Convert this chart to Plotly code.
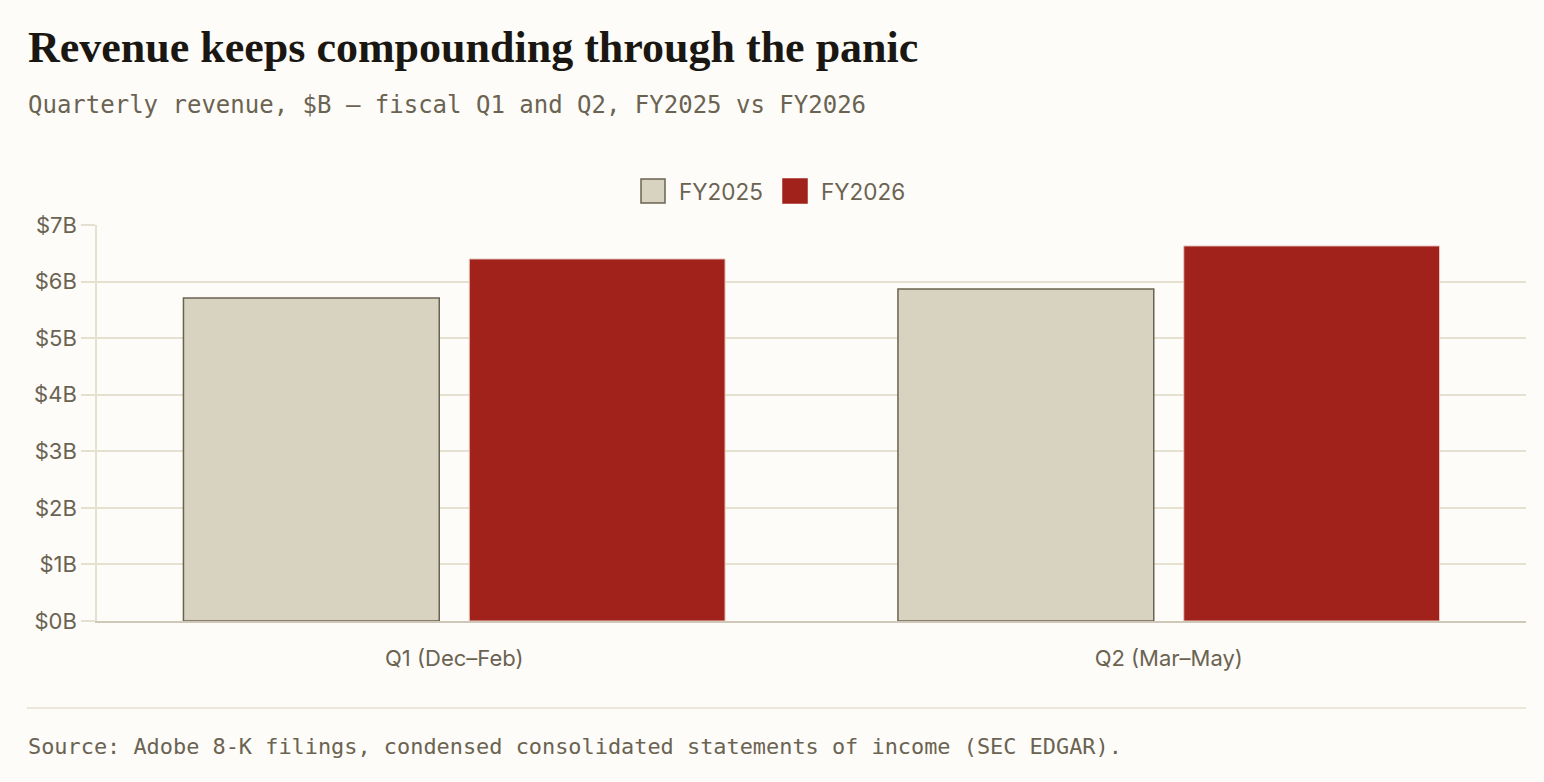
import plotly.graph_objects as go

categories = ["Q1 (Dec–Feb)", "Q2 (Mar–May)"]
series_names = ["FY2025", "FY2026"]
fy2025 = [5.71, 5.87]
fy2026 = [6.40, 6.63]
y_ticks = [0, 1, 2, 3, 4, 5, 6, 7]
y_tick_labels = ["$0B", "$1B", "$2B", "$3B", "$4B", "$5B", "$6B", "$7B"]

BG = "#fdfcf8"
GRID = "#e6e0d0"
TEXT = "#6b6352"
C25, C25_LINE = "#d8d2c0", "#6b6352"
C26 = "#a0221b"

fig = go.Figure()
fig.add_trace(go.Bar(
    name=series_names[0], x=categories, y=fy2025,
    marker=dict(color=C25, line=dict(color=C25_LINE, width=1.5)),
    hoverinfo="y",
))
fig.add_trace(go.Bar(
    name=series_names[1], x=categories, y=fy2026,
    marker=dict(color=C26, line=dict(color="#e8c8c4", width=1)),
    hoverinfo="y",
))

# plot area: x 97..1526, y 225..621
L, R, T, B = 97, 18, 225, 161
W, H = 1544, 782
pw, ph = W - L - R, H - T - B

def px(x):
    return (x - L) / pw

def py(y):
    return (H - B - y) / ph

annotations = [
    dict(text="<b>Revenue keeps compounding through the panic</b>",
         xref="paper", yref="paper", x=px(26), y=py(48),
         xanchor="left", yanchor="middle", showarrow=False,
         font=dict(family="Liberation Serif, serif", size=44, color="#1a1712")),
    dict(text="Quarterly revenue, $B — fiscal Q1 and Q2, FY2025 vs FY2026",
         xref="paper", yref="paper", x=px(26), y=py(105),
         xanchor="left", yanchor="middle", showarrow=False,
         font=dict(family="DejaVu Sans Mono, monospace", size=24, color=TEXT)),
    dict(text="Source: Adobe 8-K filings, condensed consolidated statements of income (SEC EDGAR).",
         xref="paper", yref="paper", x=px(26), y=py(746),
         xanchor="left", yanchor="middle", showarrow=False,
         font=dict(family="DejaVu Sans Mono, monospace", size=21.9, color=TEXT)),
]
shapes = [
    dict(type="line", xref="paper", yref="paper",
         x0=px(27), x1=px(1526), y0=py(708), y1=py(708),
         line=dict(color=GRID, width=1.5)),
]

# custom legend (larger swatches)
legend_items = [(series_names[0], 641, C25, C25_LINE), (series_names[1], 783, C26, C26)]
for name, x0, fill, edge in legend_items:
    shapes.append(dict(type="rect", xref="paper", yref="paper",
                       x0=px(x0), x1=px(x0 + 24), y0=py(203), y1=py(179),
                       fillcolor=fill, line=dict(color=edge, width=1.5)))
    annotations.append(dict(text=name, xref="paper", yref="paper",
                            x=px(x0 + 36), y=py(191), xanchor="left", yanchor="middle",
                            showarrow=False, font=dict(size=22.5, color=TEXT)))

fig.update_layout(
    width=W, height=H,
    margin=dict(l=L, r=R, t=T, b=B, autoexpand=False),
    paper_bgcolor=BG, plot_bgcolor=BG,
    barmode="group", bargap=0.20, bargroupgap=0.105,
    font=dict(family="Inter, sans-serif", color=TEXT, size=22),
    showlegend=False,
    xaxis=dict(showgrid=False, showline=True, linecolor="#cfc8b8", linewidth=1.5,
               ticks="", tickfont=dict(size=22, color=TEXT), ticklabelstandoff=17,
               zeroline=False),
    yaxis=dict(range=[0, 7], tickvals=y_ticks, ticktext=y_tick_labels,
               showgrid=True, gridcolor=GRID, gridwidth=1.5,
               showline=True, linecolor=GRID, linewidth=1.5,
               ticks="outside", ticklen=14, tickcolor=GRID, tickwidth=1.5,
               tickfont=dict(size=22, color=TEXT), zeroline=False),
    annotations=annotations,
    shapes=shapes,
)

fig.write_html("out.html", config={"displayModeBar": False},
               post_script="document.body.style.margin='0';document.body.style.overflow='hidden';")
